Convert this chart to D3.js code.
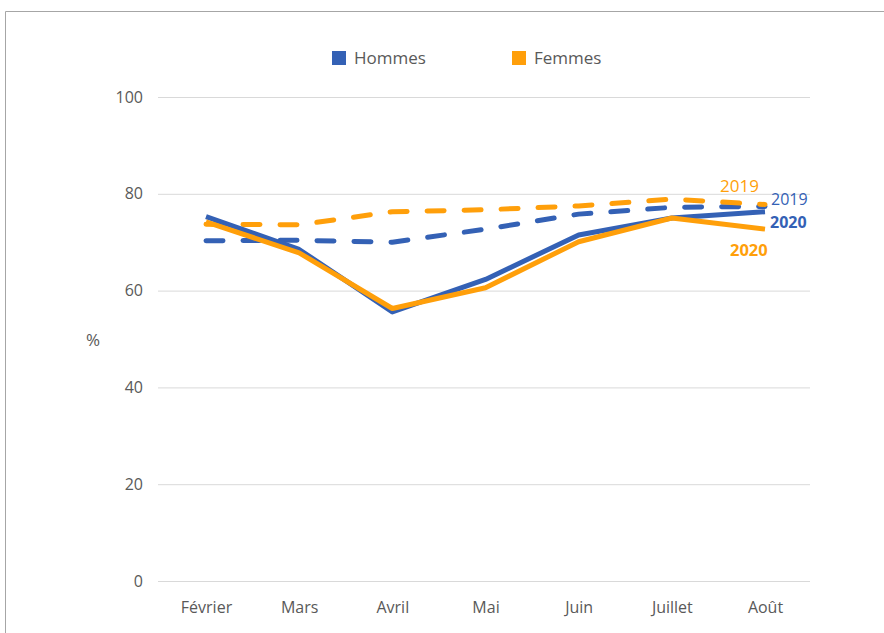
<!DOCTYPE html>
<html>
<head>
<meta charset="utf-8">
<script src="https://cdn.jsdelivr.net/npm/d3@7"></script>
<style>
  body { margin: 0; background: #fff; }
  text { font-family: "Open Sans", "Noto Sans", sans-serif; }
</style>
</head>
<body>
<div id="container"></div>
<script>
/* CONSTANTS AND GLOBALS */
const width = 884,
  height = 633,
  margin = { top: 97, bottom: 52, left: 158, right: 74 };

// DATA
const months = ["Février", "Mars", "Avril", "Mai", "Juin", "Juillet", "Août"];
const yTicks = [0, 20, 40, 60, 80, 100];
const hommes2019 = [70.3, 70.4, 70.0, 72.7, 75.8, 77.2, 77.4];
const femmes2019 = [73.7, 73.6, 76.3, 76.7, 77.5, 78.9, 77.8];
const hommes2020 = [75.3, 68.5, 55.6, 62.3, 71.5, 75.0, 76.3];
const femmes2020 = [74.2, 67.8, 56.3, 60.6, 70.1, 75.0, 72.7];

const blue = "#3461B5",
  orange = "#FF9F0A";

const series = [
  { values: hommes2019, color: blue, dashed: true },
  { values: femmes2019, color: orange, dashed: true },
  { values: hommes2020, color: blue, dashed: false },
  { values: femmes2020, color: orange, dashed: false },
];

// APPEND SVG
const svg = d3.select("#container")
  .append("svg")
  .attr("width", width)
  .attr("height", height);

// frame
svg.append("path")
  .attr("d", `M5.5,${height} V11.5 H${width}`)
  .attr("fill", "none")
  .attr("stroke", "#a6a6a6");

// SCALES
const x = d3.scalePoint()
  .domain(months)
  .range([margin.left + 48, width - margin.right - 45]);

const y = d3.scaleLinear()
  .domain([0, 100])
  .range([height - margin.bottom, margin.top]);

// GRID + Y AXIS
const yAxis = svg.append("g")
  .attr("transform", `translate(${margin.left},0)`)
  .call(d3.axisLeft(y).tickValues(yTicks).tickSize(-(width - margin.left - margin.right)).tickPadding(15));
yAxis.select(".domain").remove();
yAxis.selectAll(".tick line").attr("stroke", "#d9d9d9");
yAxis.selectAll(".tick text")
  .attr("fill", "#595959")
  .attr("font-size", 16)
  .attr("font-family", "Open Sans, sans-serif");

// X AXIS
const xAxis = svg.append("g")
  .attr("transform", `translate(0,${height - margin.bottom})`)
  .call(d3.axisBottom(x).tickSize(0).tickPadding(21));
xAxis.select(".domain").remove();
xAxis.selectAll(".tick text")
  .attr("fill", "#595959")
  .attr("font-size", 16)
  .attr("font-family", "Open Sans, sans-serif");

svg.append("text")
  .attr("x", 93)
  .attr("y", 346)
  .attr("text-anchor", "middle")
  .attr("fill", "#595959")
  .attr("font-size", 17)
  .text("%");

// LINES
const lineGen = d3.line()
  .x((d, i) => x(months[i]))
  .y(d => y(d));

svg.selectAll("path.series")
  .data(series)
  .join("path")
  .attr("class", "series")
  .attr("d", d => lineGen(d.values))
  .attr("fill", "none")
  .attr("stroke", d => d.color)
  .attr("stroke-width", 5)
  .attr("stroke-linejoin", "round")
  .attr("stroke-linecap", d => d.dashed ? "round" : "butt")
  .attr("stroke-dasharray", d => d.dashed ? "17 20" : null);

// END LABELS
const last = months[months.length - 1];
svg.append("text").attr("x", x(last) - 45).attr("y", y(femmes2019[6]) - 12)
  .attr("fill", orange).attr("font-size", 17).text("2019");
svg.append("text").attr("x", x(last) + 6).attr("y", y(hommes2019[6]) - 1.5)
  .attr("fill", blue).attr("font-size", 16).text("2019");
svg.append("text").attr("x", x(last) + 5).attr("y", y(hommes2020[6]) + 16)
  .attr("fill", blue).attr("font-size", 16).attr("font-weight", "bold").text("2020");
svg.append("text").attr("x", x(last) - 35).attr("y", y(femmes2020[6]) + 27)
  .attr("fill", orange).attr("font-size", 16.5).attr("font-weight", "bold").text("2020");

// LEGEND
const legend = svg.append("g");
const legendItems = [
  { label: "Hommes", color: blue, x: 332 },
  { label: "Femmes", color: orange, x: 512 },
];
legend.selectAll("rect")
  .data(legendItems)
  .join("rect")
  .attr("x", d => d.x)
  .attr("y", 51)
  .attr("width", 14)
  .attr("height", 14)
  .attr("fill", d => d.color);
legend.selectAll("text")
  .data(legendItems)
  .join("text")
  .attr("x", d => d.x + 22)
  .attr("y", 64)
  .attr("fill", "#595959")
  .attr("font-size", 17)
  .text(d => d.label);
</script>
</body>
</html>
